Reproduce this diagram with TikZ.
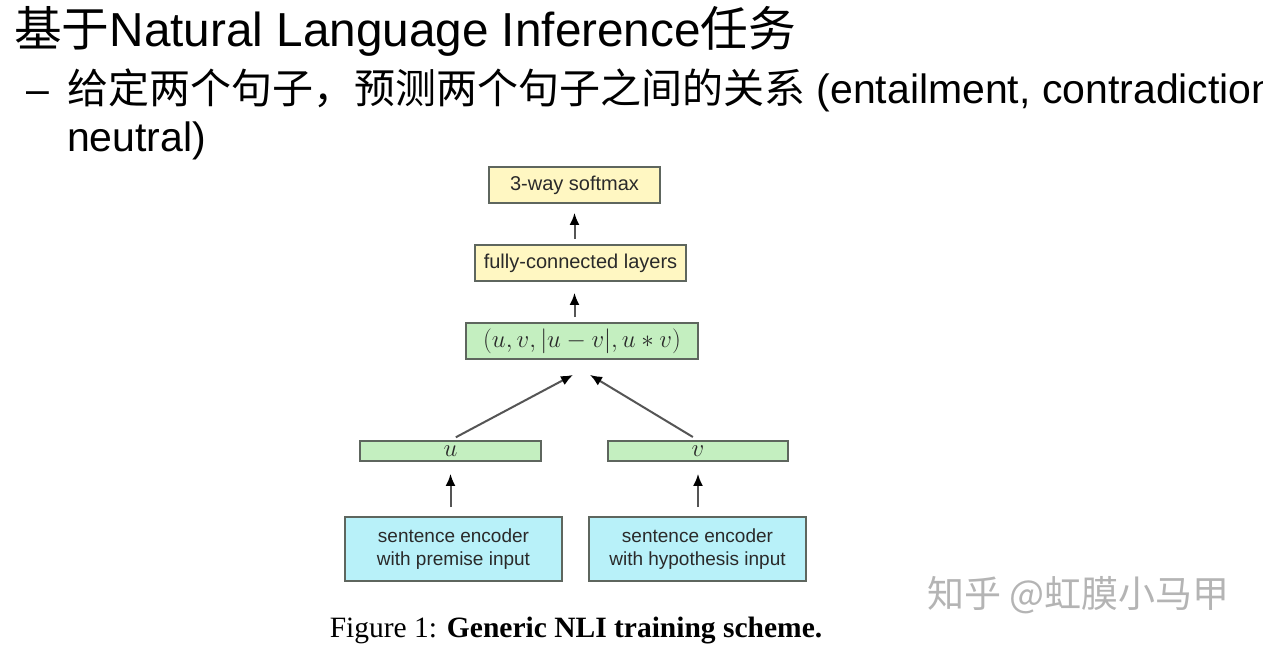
\documentclass[tikz,border=0pt]{standalone}
\usepackage{fontspec}
\setmainfont{Liberation Sans}
\newfontfamily\cjk{Noto Sans CJK SC}
\newfontfamily\serifcap{Liberation Serif}
\usetikzlibrary{arrows.meta}
\definecolor{boxline}{HTML}{5E665E}
\definecolor{yelfill}{HTML}{FFF7C2}
\definecolor{grnfill}{HTML}{C4EFC0}
\definecolor{cyanfill}{HTML}{B8F1F9}
\definecolor{arrline}{HTML}{555555}
\definecolor{wmark}{HTML}{B4B4B4}
\definecolor{boxtext}{HTML}{2A2A2A}
\tikzset{
  box/.style={draw=boxline, line width=1.8pt, inner sep=0pt, text=boxtext,
    font=\fontsize{20}{24}\selectfont},
  yelbox/.style={box, fill=yelfill},
  grnbox/.style={box, fill=grnfill},
  cyanbox/.style={box, fill=cyanfill, align=center,
    font=\fontsize{19}{23}\selectfont},
  arr/.style={draw=arrline, line width=2pt, -{Latex[length=12pt,width=10pt,fill=black,color=black]}}
}
\begin{document}
\begin{tikzpicture}[x=1pt,y=-1pt]
\clip (0,0) rectangle (1263,645);
\fill[white] (0,0) rectangle (1263,645);

% header text
\node[anchor=base west, inner sep=0pt, font=\fontsize{47.7}{56}\selectfont] (title) at (14,46)
  {{\cjk 基于}Natural Language Inference{\cjk 任务}};
\node[anchor=base west, inner sep=0pt, font=\fontsize{41}{48}\selectfont] (dash) at (26,103) {--};
\node[anchor=base west, inner sep=0pt, font=\fontsize{41}{48}\selectfont] (line2) at (67,103)
  {{\cjk 给定两个句子，预测两个句子之间的关系} (entailment, contradiction,};
\node[anchor=base west, inner sep=0pt, font=\fontsize{41}{48}\selectfont] (line3) at (67,151)
  {neutral)};

% boxes
\node[yelbox, minimum width=171pt, minimum height=36pt] (soft) at (574.5,185) {3-way softmax};
\node[yelbox, minimum width=211pt, minimum height=36pt] (fc) at (580.5,263) {fully-connected layers};
\node[grnbox, minimum width=232pt, minimum height=36pt, font=\fontsize{27}{30}\selectfont] (cat) at (582,341)
  {$(u, v, |u-v|, u*v)$};
\node[grnbox, minimum width=181pt, minimum height=20pt, font=\fontsize{28}{28}\selectfont] (u) at (450.5,451) {$u$};
\node[grnbox, minimum width=180pt, minimum height=20pt, font=\fontsize{28}{28}\selectfont] (v) at (698,451) {$v$};
\node[cyanbox, minimum width=217pt, minimum height=64pt] (encL) at (453.5,549)
  {sentence encoder\\with premise input};
\node[cyanbox, minimum width=217pt, minimum height=64pt] (encR) at (697.5,549)
  {sentence encoder\\with hypothesis input};

% arrows
\draw[arr, shorten <=5pt, shorten >=9pt] (fc.north -| soft.south) -- (soft.south);
\draw[arr, shorten <=5pt, shorten >=11pt] (cat.north -| soft.south) -- (fc.south -| soft.south);
\draw[arr, shorten <=6pt] (u.north) -- ([xshift=-9pt,yshift=-15pt]cat.south);
\draw[arr, shorten <=6pt] (v.north) -- ([xshift=8pt,yshift=-15pt]cat.south);
\draw[arr, shorten <=9pt, shorten >=12pt] (encL.north -| u.south) -- (u.south);
\draw[arr, shorten <=9pt, shorten >=12pt] (encR.north -| v.south) -- (v.south);

% caption
\node[anchor=base, inner sep=0pt, font=\serifcap\fontsize{29.5}{34}\selectfont] (cap) at (576,637)
  {Figure 1: \textbf{Generic NLI training scheme.}};

% watermark
\node[anchor=base west, inner sep=0pt, text=wmark, font=\cjk\fontsize{37}{42}\selectfont] (wm) at (927,607)
  {知乎 @虹膜小马甲};
\end{tikzpicture}
\end{document}
